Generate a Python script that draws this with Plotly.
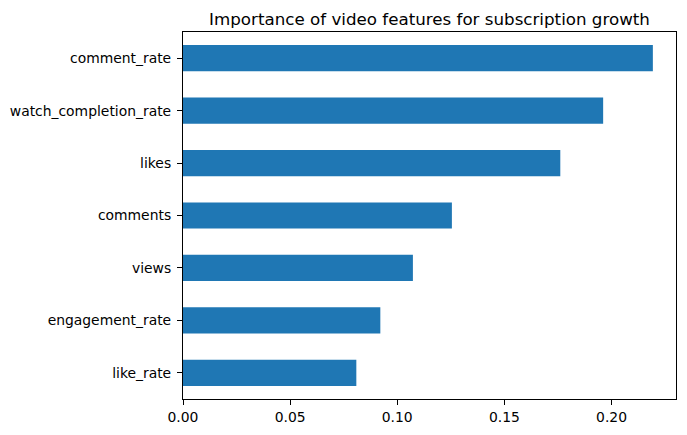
import plotly.graph_objects as go

features = ["like_rate", "engagement_rate", "views", "comments", "likes",
            "watch_completion_rate", "comment_rate"]
importance = [0.0809, 0.0921, 0.1073, 0.1255, 0.1761, 0.1961, 0.2193]
x_ticks = [0.0, 0.05, 0.10, 0.15, 0.20]
x_tick_labels = ["0.00", "0.05", "0.10", "0.15", "0.20"]
title_text = "Importance of video features for subscription growth"

FONT = "DejaVu Sans"

fig = go.Figure(go.Bar(
    x=importance, y=features, orientation="h",
    width=0.5, marker=dict(color="#1f77b4", line=dict(width=0)),
))

axis_common = dict(
    showline=True, linecolor="black", linewidth=1.1, mirror=True,
    ticks="outside", ticklen=5, tickwidth=1.1, tickcolor="black",
    showgrid=False, zeroline=False,
    tickfont=dict(family=FONT, size=13.9, color="black"),
)

fig.update_layout(
    width=687, height=435,
    margin=dict(l=182, r=10, t=32, b=34),
    plot_bgcolor="white", paper_bgcolor="white",
    showlegend=False,
    title=dict(text=title_text, x=0.5, xref="paper", xanchor="center",
               y=1, yref="paper", yanchor="bottom", pad=dict(b=7),
               font=dict(family=FONT, size=16.7, color="black")),
    xaxis=dict(range=[0, 0.2301], tickvals=x_ticks, ticktext=x_tick_labels, **axis_common),
    yaxis=dict(type="category", categoryorder="array", categoryarray=features,
               range=[-0.5, 6.5], ticklabelstandoff=3, **axis_common),
)

fig.write_html("out.html")
